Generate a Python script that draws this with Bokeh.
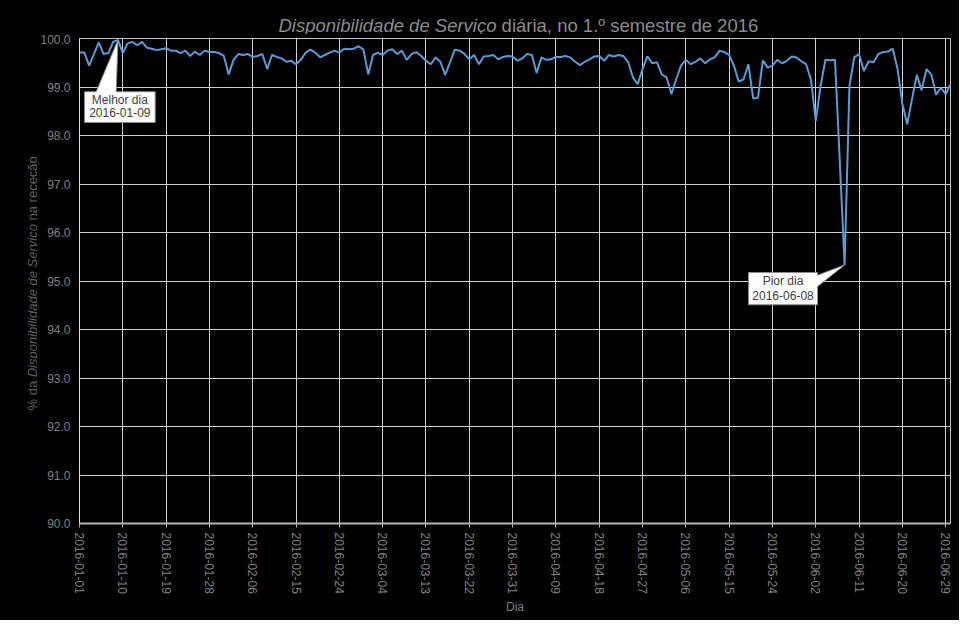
import numpy as np
import pandas as pd
from bokeh.plotting import figure
from bokeh.layouts import column, row
from bokeh.models import (FixedTicker, DatetimeTickFormatter, Range1d,
                          PrintfTickFormatter)
from bokeh.embed import file_html
from bokeh.resources import INLINE
from bokeh.core.properties import value

# ---------------- data ----------------
start_date = "2016-01-01"
availability = [
    99.71, 99.71, 99.44, 99.68, 99.92, 99.68, 99.70, 99.93, 99.97, 99.70,
    99.90, 99.93, 99.86, 99.93, 99.81, 99.79, 99.76, 99.78, 99.80, 99.75,
    99.75, 99.70, 99.75, 99.64, 99.73, 99.66, 99.75, 99.72, 99.72, 99.70,
    99.64, 99.26, 99.56, 99.68, 99.66, 99.68, 99.62, 99.64, 99.68, 99.37,
    99.66, 99.62, 99.59, 99.52, 99.54, 99.47, 99.56, 99.71, 99.77, 99.71,
    99.61, 99.66, 99.71, 99.75, 99.71, 99.79, 99.78, 99.79, 99.84, 99.77,
    99.26, 99.66, 99.71, 99.66, 99.75, 99.78, 99.68, 99.75, 99.56, 99.68,
    99.72, 99.64, 99.54, 99.47, 99.61, 99.52, 99.25, 99.51, 99.77, 99.75,
    99.68, 99.57, 99.66, 99.47, 99.63, 99.64, 99.66, 99.57, 99.62, 99.64,
    99.63, 99.54, 99.59, 99.68, 99.66, 99.29, 99.61, 99.56, 99.57, 99.62,
    99.62, 99.64, 99.61, 99.52, 99.45, 99.52, 99.57, 99.63, 99.64, 99.54,
    99.66, 99.63, 99.66, 99.64, 99.52, 99.20, 99.06, 99.37, 99.63, 99.49,
    99.51, 99.26, 99.20, 98.85, 99.16, 99.44, 99.56, 99.47, 99.52, 99.59,
    99.49, 99.57, 99.61, 99.75, 99.72, 99.66, 99.44, 99.11, 99.16, 99.47,
    98.76, 98.78, 99.55, 99.40, 99.44, 99.56, 99.49, 99.54, 99.63, 99.61,
    99.53, 99.47, 99.15, 98.30, 99.02, 99.56, 99.55, 99.56, 97.45, 95.33,
    99.02, 99.61, 99.68, 99.33, 99.53, 99.51, 99.68, 99.72, 99.73, 99.79,
    99.37, 98.65, 98.23, 98.75, 99.25, 98.93, 99.37, 99.26, 98.84, 98.99,
    98.85, 99.06,
]
y_ticks = [90.0, 91.0, 92.0, 93.0, 94.0, 95.0, 96.0, 97.0, 98.0, 99.0, 100.0]
x_tick_labels = [
    "2016-01-01", "2016-01-10", "2016-01-19", "2016-01-28", "2016-02-06",
    "2016-02-15", "2016-02-24", "2016-03-04", "2016-03-13", "2016-03-22",
    "2016-03-31", "2016-04-09", "2016-04-18", "2016-04-27", "2016-05-06",
    "2016-05-15", "2016-05-24", "2016-06-02", "2016-06-11", "2016-06-20",
    "2016-06-29",
]
title_italic = "Disponibilidade de Serviço"
title_rest = "diária, no 1.º semestre de 2016"
ylabel_parts = ["% da", "Disponibilidade de Serviço", "na receção"]
x_label = "Dia"
best_text = "Melhor dia"
worst_text = "Pior dia"

# ---------------- derived ----------------
dates = pd.date_range(start_date, periods=len(availability), freq="D")
x_ms = [int(d.value // 10**6) for d in dates]
tick_ms = [int(pd.Timestamp(t).value // 10**6) for t in x_tick_labels]

FONT = "Liberation Sans"
FW, FH = 871, 485
YMIN, YMAX = 90.0, 100.0
ms_per_px = (x_ms[-1] - x_ms[0]) / FW
units_per_px = (YMAX - YMIN) / FH

TITLE_H = 34
YLAB_W = 37
MAIN_TOP, MAIN_BOTTOM, MAIN_LEFT, MAIN_RIGHT = 4, 97, 41, 9
MAIN_H = MAIN_TOP + FH + MAIN_BOTTOM
TOTAL_W = YLAB_W + MAIN_LEFT + FW + MAIN_RIGHT


def no_align(f):
    try:
        f.frame_align = False
    except Exception:
        pass
    return f


# ---------------- main plot ----------------
p = figure(x_axis_type="datetime", frame_width=FW, frame_height=FH, title=None,
           min_border_left=MAIN_LEFT, min_border_right=MAIN_RIGHT,
           min_border_top=MAIN_TOP, min_border_bottom=MAIN_BOTTOM,
           x_range=Range1d(x_ms[0], x_ms[-1]), y_range=Range1d(YMIN, YMAX),
           output_backend="svg", toolbar_location=None,
           background_fill_color="black", border_fill_color="black",
           outline_line_color="#bfbfbf", outline_line_width=1)
no_align(p)

p.xgrid.ticker = FixedTicker(ticks=tick_ms)
p.ygrid.ticker = FixedTicker(ticks=y_ticks)
p.grid.grid_line_color = "#d0d0d0"
p.grid.grid_line_width = 1

p.xaxis.ticker = FixedTicker(ticks=tick_ms)
fmt = "%Y-%m-%d"
p.xaxis.formatter = DatetimeTickFormatter(
    microseconds=fmt, milliseconds=fmt, seconds=fmt, minsec=fmt, minutes=fmt,
    hourmin=fmt, hours=fmt, days=fmt, months=fmt, years=fmt)
p.xaxis.major_label_orientation = "vertical"
p.xaxis.axis_line_color = "#b3b3b3"
p.xaxis.axis_line_width = 2
p.xaxis.major_tick_line_color = "#b3b3b3"
p.xaxis.major_tick_out = 4
p.xaxis.major_tick_in = 0
p.xaxis.minor_tick_line_color = None
p.xaxis.minor_tick_out = 0
p.xaxis.minor_tick_in = 0
p.xaxis.major_label_standoff = 5
p.xaxis.major_label_text_color = "#808080"
p.xaxis.major_label_text_font = FONT
p.xaxis.major_label_text_font_size = "12px"
p.xaxis.axis_label = x_label
p.xaxis.axis_label_text_color = "#808080"
p.xaxis.axis_label_text_font = FONT
p.xaxis.axis_label_text_font_style = "normal"
p.xaxis.axis_label_text_font_size = "12px"
p.xaxis.axis_label_standoff = 3

p.yaxis.ticker = FixedTicker(ticks=y_ticks)
p.yaxis.formatter = PrintfTickFormatter(format="%.1f")
p.yaxis.axis_line_color = "#e0e0e0"
p.yaxis.axis_line_width = 1
p.yaxis.major_tick_line_color = None
p.yaxis.minor_tick_line_color = None
p.yaxis.major_tick_out = 0
p.yaxis.major_tick_in = 0
p.yaxis.minor_tick_out = 0
p.yaxis.minor_tick_in = 0
p.yaxis.axis_label_standoff = 0
p.yaxis.major_label_standoff = 9
p.yaxis.major_label_text_color = "#808080"
p.yaxis.major_label_text_font = FONT
p.yaxis.major_label_text_font_size = "12px"

p.line(x_ms, availability, line_color="#5b9bd5", line_width=2)


def callout(ix, text_lines, box, wedge, edge, line_offsets):
    ax, ay = x_ms[ix], availability[ix]

    def pt(ox, oy):
        return ax + ox * ms_per_px, ay - oy * units_per_px

    L, R, T, B = box
    if edge == "top":
        poly = [(L, T), (wedge[0], T), (0, 0), (wedge[1], T), (R, T), (R, B), (L, B)]
    else:
        poly = [(L, T), (R, T), (R, wedge[0]), (0, 0), (R, wedge[1]), (R, B), (L, B)]
    pts = [pt(ox, oy) for ox, oy in poly]
    p.patch([q[0] for q in pts], [q[1] for q in pts], fill_color="white",
            line_color="#8c8c8c", line_width=1)
    cx = (L + R) / 2
    tx = [pt(cx, oy)[0] for oy in line_offsets]
    ty = [pt(cx, oy)[1] for oy in line_offsets]
    p.text(tx, ty, text=text_lines, text_align="center", text_baseline="middle",
           text_font=value(FONT), text_font_size="12px", text_color="#404040")


best = int(np.argmax(availability))
worst = int(np.argmin(availability))
callout(best, [best_text, dates[best].strftime("%Y-%m-%d")],
        (-33.5, 37.2, 51.8, 82.5), (-21.8, -1.8), "top", (60.0, 73.0))
callout(worst, [worst_text, dates[worst].strftime("%Y-%m-%d")],
        (-96.1, -27.1, 7.5, 39.8), (10.2, 21.5), "right", (16.5, 30.5))


def blank(w, h):
    f = figure(title=None, x_axis_location=None, y_axis_location=None,
               frame_width=w, frame_height=h,
               min_border_left=0, min_border_right=0, min_border_top=0,
               min_border_bottom=0,
               x_range=Range1d(0, w), y_range=Range1d(0, h),
               output_backend="svg", toolbar_location=None,
               background_fill_color="black", border_fill_color="black",
               outline_line_color=None)
    for r in f.grid:
        r.visible = False
    return no_align(f)


# ---------------- title panel (mixed italic / normal) ----------------
tp = blank(TOTAL_W, TITLE_H)
title_y = 9.5
junction = 496.0
tp.text([junction], [title_y], text=[title_italic], text_align="right",
        text_baseline="alphabetic", text_font=value(FONT),
        text_font_style=value("italic"), text_font_size="18.5px",
        text_color="#8c8c8c")
tp.text([junction + 5.1], [title_y], text=[title_rest], text_align="left",
        text_baseline="alphabetic", text_font=value(FONT),
        text_font_style=value("normal"), text_font_size="18.5px",
        text_color="#8c8c8c")

# ---------------- y-label panel (mixed italic / normal, rotated) --------
yp = blank(YLAB_W, MAIN_H)
ylab_x = 31.5
# start of each part, in px up from the panel bottom (text runs upward)
for txt, start_px, style in [(ylabel_parts[0], 210.0, "normal"),
                             (ylabel_parts[1], 243.2, "italic"),
                             (ylabel_parts[2], 400.0, "normal")]:
    yp.text([ylab_x], [start_px], text=[txt],
            angle=np.pi / 2, text_align="left", text_baseline="alphabetic",
            text_font=value(FONT), text_font_style=value(style),
            text_font_size="13px", text_color="#626262")

inner = row(yp, p, spacing=0)
layout = column(tp, inner, spacing=0)
for box in (inner, layout):
    try:
        box.styles = {"background-color": "#000000"}
    except Exception:
        pass

open("out.html", "w").write(file_html(layout, INLINE))
